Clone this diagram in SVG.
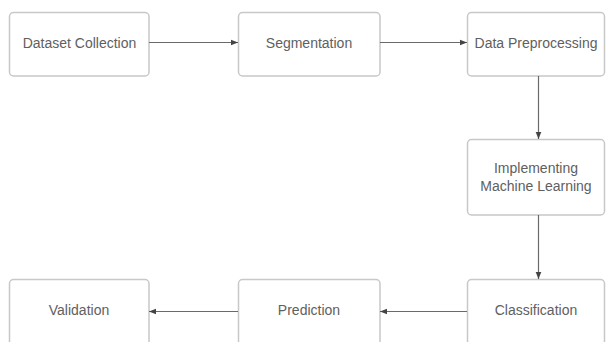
<svg xmlns="http://www.w3.org/2000/svg" width="606" height="342" viewBox="0 0 606 342">
<style>
.box{fill:#fff;stroke:#c8c8c8;stroke-width:1.5}
.lbl{font-family:"Liberation Sans",Arial,sans-serif;font-size:14px;fill:#606060;text-anchor:middle;dominant-baseline:central}
.conn{stroke:#6a6a6a;stroke-width:1.2;fill:none;marker-end:url(#ah)}
</style>
<defs>
<marker id="ah" viewBox="0 0 10 10" refX="10" refY="5" markerWidth="7" markerHeight="7" markerUnits="userSpaceOnUse" orient="auto">
<path d="M0,1 L10,5 L0,9 z" fill="#444"/>
</marker>
</defs>
<rect width="606" height="342" fill="#fff"/>
<g id="n1"><rect class="box" x="9.5" y="12.5" width="139.5" height="63.5" rx="4"/><text class="lbl" x="79.5" y="42.5">Dataset Collection</text></g>
<g id="n2"><rect class="box" x="238.5" y="12.5" width="141.5" height="63.5" rx="4"/><text class="lbl" x="309" y="42.5">Segmentation</text></g>
<g id="n3"><rect class="box" x="467.5" y="12.5" width="137" height="63.5" rx="4"/><text class="lbl" x="536" y="42.5">Data Preprocessing</text></g>
<g id="n4"><rect class="box" x="467.5" y="139.5" width="137" height="75.5" rx="4"/><text class="lbl" x="536" y="168">Implementing</text><text class="lbl" x="536" y="185.5">Machine Learning</text></g>
<g id="n5"><rect class="box" x="467.5" y="279.5" width="137" height="66" rx="4"/><text class="lbl" x="536" y="309.5">Classification</text></g>
<g id="n6"><rect class="box" x="238.5" y="279.5" width="141.5" height="66" rx="4"/><text class="lbl" x="309" y="309.5">Prediction</text></g>
<g id="n7"><rect class="box" x="9.5" y="279.5" width="139.5" height="66" rx="4"/><text class="lbl" x="79" y="309.5">Validation</text></g>
<g id="connectors">
<line class="conn" x1="149" y1="42.5" x2="238" y2="42.5"/>
<line class="conn" x1="380" y1="42.5" x2="467" y2="42.5"/>
<line class="conn" x1="538.5" y1="76" x2="538.5" y2="139"/>
<line class="conn" x1="538.5" y1="215" x2="538.5" y2="279"/>
<line class="conn" x1="467" y1="311.5" x2="380" y2="311.5"/>
<line class="conn" x1="238" y1="311.5" x2="149" y2="311.5"/>
</g>
</svg>
